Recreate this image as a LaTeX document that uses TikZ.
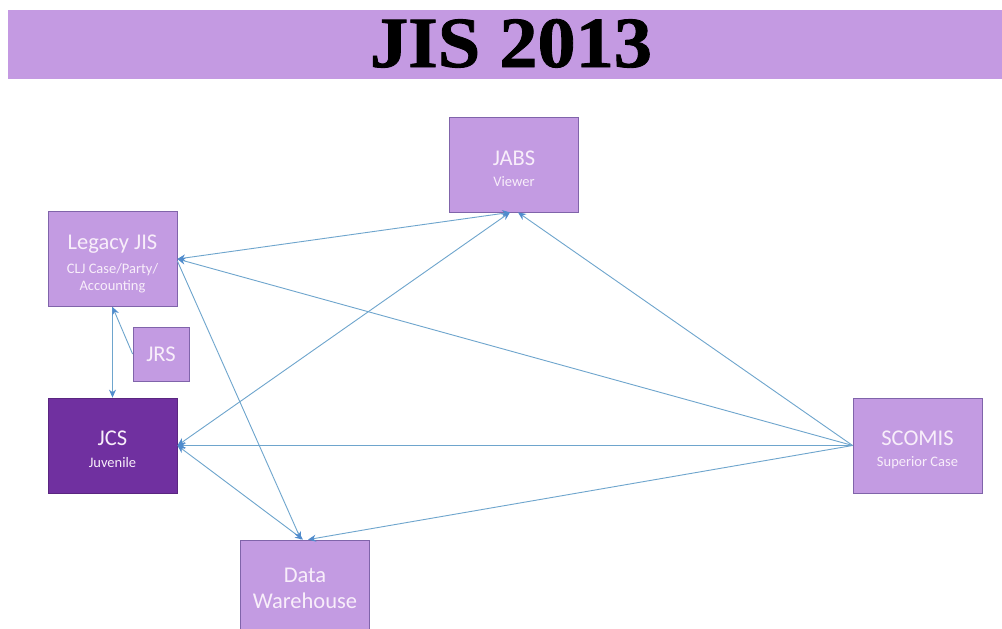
\documentclass[tikz,border=0pt]{standalone}
\usepackage{fontspec}
\setmainfont{Carlito}
\newfontfamily\titlefont[BoldFeatures={FakeBold=1.2,FakeStretch=1.06}]{Liberation Serif}
\usetikzlibrary{arrows.meta,calc}
\definecolor{boxfill}{RGB}{195,155,226}
\definecolor{boxline}{RGB}{128,100,170}
\definecolor{darkfill}{RGB}{112,48,160}
\definecolor{barfill}{RGB}{196,154,226}
\definecolor{conn}{RGB}{110,165,205}
\definecolor{tip}{RGB}{80,140,205}
\definecolor{boxtext}{RGB}{248,238,250}
\newcommand\subtxt{\fontsize{14.5}{16}\selectfont}
\newcommand\lowr[1]{\rule{0pt}{#1pt}}
\tikzset{
  sysbox/.style={draw=boxline, line width=0.8pt, fill=boxfill, text=boxtext,
    minimum width=129pt, minimum height=95pt, inner sep=0pt, align=center,
    font=\fontsize{22.5}{26}\selectfont},
  darkbox/.style={sysbox, fill=darkfill, draw=darkfill!80!black},
  conn/.style={draw=conn, line width=0.9pt, -{Stealth[length=8pt,width=7pt,color=tip]}},
  conn2/.style={conn, {Stealth[length=8pt,width=7pt,color=tip]}-{Stealth[length=8pt,width=7pt,color=tip]}}
}
\begin{document}
\begin{tikzpicture}[x=1pt,y=-1pt]
\useasboundingbox (0,0) rectangle (1002,629);
\clip (0,0) rectangle (1002,629);
\fill[white] (0,0) rectangle (1002,629);
\node[fill=barfill, minimum width=994pt, minimum height=69pt, inner sep=0pt] (bar) at (505,44.5) {};
\node[font=\titlefont\bfseries\fontsize{72}{76}\selectfont, text=black, inner sep=0pt, anchor=base] (title) at (511,67) {JIS 2013};
\node[sysbox] (jabs) at (514,164.5) {\lowr{24}JABS\\[-5pt]{\subtxt Viewer}};
\node[sysbox] (legacy) at (112.5,259) {\lowr{24}Legacy JIS\\[-2pt]{\subtxt CLJ Case/Party/}\\[-9pt]{\subtxt Accounting}};
\node[sysbox, minimum width=56pt, minimum height=54pt] (jrs) at (161,354) {JRS};
\node[darkbox] (jcs) at (112.5,445.5) {\lowr{23}JCS\\[-4pt]{\subtxt Juvenile}};
\node[sysbox] (scomis) at (917.5,445.5) {\lowr{23}SCOMIS\\[-5pt]{\subtxt Superior Case}};
\node[sysbox, minimum height=96pt, text depth=0pt] (dw) at (305,588) {Data\\Warehouse};
% connectors
\draw[conn2] (legacy.east) -- ($(jabs.south)+(-4,0)$);
\draw[conn] (scomis.west) -- (legacy.east);
\draw[conn] (scomis.west) -- ($(jabs.south)+(4,0)$);
\draw[conn] (scomis.west) -- (jcs.east);
\draw[conn] (scomis.west) -- ($(dw.north)+(3,0)$);
\draw[conn2] (jcs.east) -- ($(jabs.south)+(-4,0)$);
\draw[conn2] (jcs.east) -- ($(dw.north)+(-2,0)$);
\draw[conn] ($(legacy.east)+(0,2)$) -- ($(dw.north)+(-4,0)$);
\draw[conn] (legacy.south) -- (jcs.north);
\draw[conn] (jrs.west) -- (legacy.south);
\end{tikzpicture}
\end{document}
